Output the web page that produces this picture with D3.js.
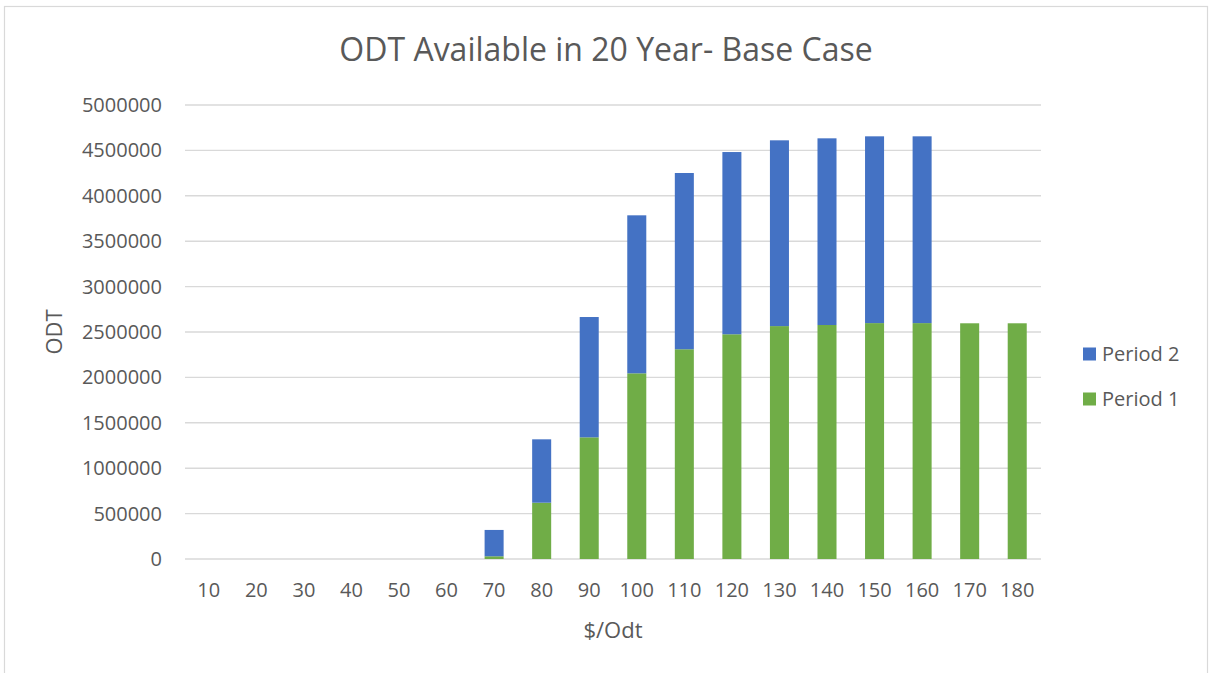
<!DOCTYPE html>
<html>
<head>
<meta charset="utf-8">
<script src="https://cdn.jsdelivr.net/npm/d3@7"></script>
<style>
  html, body { margin: 0; padding: 0; background: #ffffff; }
  text { font-family: "Open Sans", "Noto Sans", sans-serif; fill: #595959; }
</style>
</head>
<body>
<svg id="chart" width="1209" height="673"></svg>
<script>
const categories = ["10","20","30","40","50","60","70","80","90","100","110","120","130","140","150","160","170","180"];
const period1 = [0,0,0,0,0,0,30000,620000,1340000,2045000,2310000,2475000,2565000,2577000,2598000,2598000,2596000,2596000];
const period2 = [0,0,0,0,0,0,290000,698000,1325000,1740000,1941000,2007000,2046000,2056000,2057000,2057000,0,0];
const yTicks = [0,500000,1000000,1500000,2000000,2500000,3000000,3500000,4000000,4500000,5000000];
const seriesNames = ["Period 1","Period 2"];
const seriesColors = ["#70ad47","#4472c4"];
const titleText = "ODT Available in 20 Year- Base Case";
const xTitle = "$/Odt";
const yTitle = "ODT";

const svg = d3.select("#chart");
const W = 1209, H = 673;
const m = {left: 185, right: 168, top: 105, bottom: 114};
const pw = W - m.left - m.right, ph = H - m.top - m.bottom;

svg.append("rect").attr("x",4.5).attr("y",6.5).attr("width",1203).attr("height",680)
  .attr("fill","#fff").attr("stroke","#d9d9d9").attr("stroke-width",1.2);

const x = d3.scaleBand().domain(categories).range([m.left, m.left+pw]).paddingInner(0.6).paddingOuter(0.3);
const y = d3.scaleLinear().domain([0,5000000]).range([m.top+ph, m.top]);

// gridlines
const grid = svg.append("g");
grid.selectAll("line").data(yTicks).join("line")
  .attr("x1", m.left).attr("x2", m.left+pw)
  .attr("y1", d=>y(d)).attr("y2", d=>y(d))
  .attr("stroke","#d9d9d9").attr("stroke-width",1.4);

// y axis labels
const yAxis = d3.axisLeft(y).tickValues(yTicks).tickFormat(d3.format("d")).tickSize(0).tickPadding(23);
const yg = svg.append("g").attr("transform",`translate(${m.left},0)`).call(yAxis);
yg.select(".domain").remove();
yg.selectAll("text").attr("font-size",20).style("font-family",'"Open Sans", sans-serif').attr("fill","#595959");

// x axis labels
const xAxis = d3.axisBottom(x).tickSize(0).tickPadding(24);
const xg = svg.append("g").attr("transform",`translate(0,${m.top+ph})`).call(xAxis);
xg.select(".domain").remove();
xg.selectAll("text").attr("font-size",20).style("font-family",'"Open Sans", sans-serif').attr("fill","#595959");

// stacked bars
const rows = categories.map((c,i)=>({cat:c, p1:period1[i], p2:period2[i]}));
const stack = d3.stack().keys(["p1","p2"])(rows);
svg.append("g").selectAll("g").data(stack).join("g")
  .attr("fill",(d,i)=>seriesColors[i])
  .selectAll("rect").data(d=>d.filter(v=>v[1]-v[0]>0)).join("rect")
  .attr("x", d=>x(d.data.cat)).attr("width", x.bandwidth())
  .attr("y", d=>y(d[1])).attr("height", d=>y(d[0])-y(d[1]));

// title
svg.append("text").attr("x",606).attr("y",61).attr("text-anchor","middle")
  .attr("font-size",32).text(titleText);

// axis titles
svg.append("text").attr("x", 613).attr("y", 638).attr("text-anchor","middle")
  .attr("font-size",22).text(xTitle);
svg.append("text").attr("transform",`translate(62,${m.top+ph/2}) rotate(-90)`)
  .attr("text-anchor","middle").attr("font-size",22).text(yTitle);

// legend
const legendItems = [{name:seriesNames[1], color:seriesColors[1], y:354},{name:seriesNames[0], color:seriesColors[0], y:399}];
const lg = svg.append("g");
legendItems.forEach(it=>{
  lg.append("rect").attr("x",1083).attr("y",it.y-6.5).attr("width",13).attr("height",13).attr("fill",it.color);
  lg.append("text").attr("x",1102).attr("y",it.y+7).attr("font-size",20).text(it.name);
});
</script>
</body>
</html>
